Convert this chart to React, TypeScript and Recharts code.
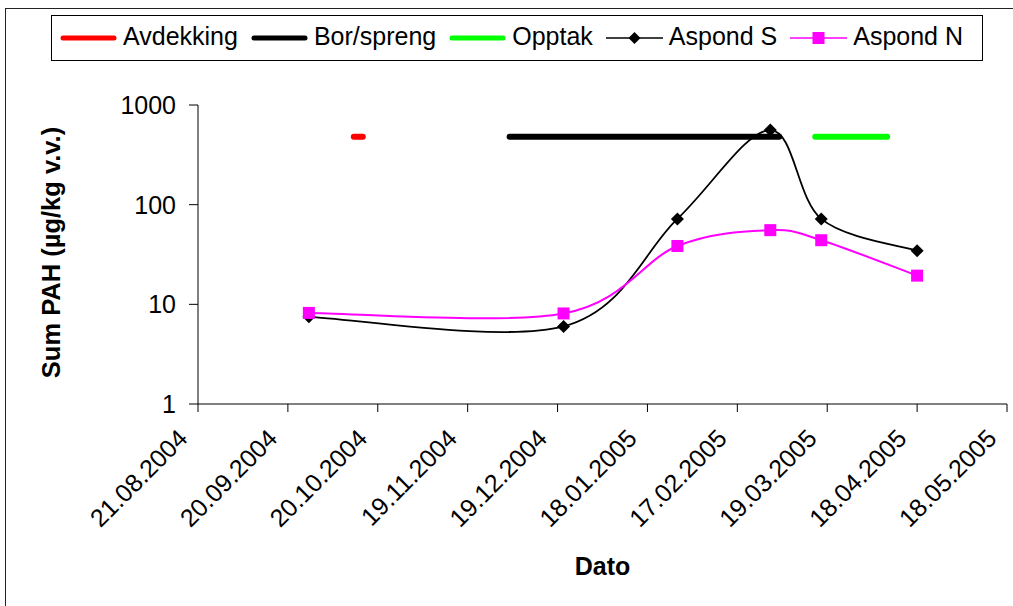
import { LineChart, Line, XAxis, YAxis } from 'recharts';

// dates read as dd.mm.yyyy
const xTickDates = [
  '21.08.2004', '20.09.2004', '20.10.2004', '19.11.2004', '19.12.2004',
  '18.01.2005', '17.02.2005', '19.03.2005', '18.04.2005', '18.05.2005',
];
const yTicks = [1, 10, 100, 1000];

const sampleDates = ['27.09.2004', '21.12.2004', '28.01.2005', '28.02.2005', '17.03.2005', '18.04.2005'];
const aspondS = [7.5, 6, 72, 560, 72, 34.5];
const aspondN = [8.2, 8.1, 38.5, 55.5, 44, 19.4];

// phase periods, drawn as flat bars at one level
const avdekking = ['12.10.2004', '15.10.2004'];
const borSpreng = ['03.12.2004', '03.03.2005'];
const opptak = ['15.03.2005', '08.04.2005'];
const phaseLevel = 480;

const toTime = (s: string) => {
  const [d, m, y] = s.split('.').map(Number);
  return Date.UTC(y, m - 1, d);
};
const fmt = (t: number) => {
  const d = new Date(t);
  const p = (n: number) => String(n).padStart(2, '0');
  return `${p(d.getUTCDate())}.${p(d.getUTCMonth() + 1)}.${d.getUTCFullYear()}`;
};

const xTicks = xTickDates.map(toTime);
const sData = sampleDates.map((d, i) => ({ t: toTime(d), v: aspondS[i] }));
const nData = sampleDates.map((d, i) => ({ t: toTime(d), v: aspondN[i] }));
const phase = (dates: string[]) => dates.map((d) => ({ t: toTime(d), v: phaseLevel }));

const RED = '#FF0000';
const GREEN = '#00FF00';
const MAGENTA = '#FF00FF';
const FONT = '"Liberation Sans", Arial, sans-serif';

// Excel-style smoothed line (Catmull-Rom through the points)
const excelSmooth = (context: any) => {
  let pts: number[][] = [];
  return {
    areaStart() {},
    areaEnd() {},
    lineStart() {
      pts = [];
    },
    point(x: number, y: number) {
      pts.push([+x, +y]);
    },
    lineEnd() {
      if (!pts.length) return;
      context.moveTo(pts[0][0], pts[0][1]);
      for (let i = 0; i < pts.length - 1; i++) {
        const p0 = pts[i - 1] || pts[i];
        const p1 = pts[i];
        const p2 = pts[i + 1];
        const p3 = pts[i + 2] || p2;
        context.bezierCurveTo(
          p1[0] + (p2[0] - p0[0]) / 6,
          p1[1] + (p2[1] - p0[1]) / 6,
          p2[0] - (p3[0] - p1[0]) / 6,
          p2[1] - (p3[1] - p1[1]) / 6,
          p2[0],
          p2[1],
        );
      }
    },
  };
};

const Diamond = (props: any) => {
  const { cx, cy, index } = props;
  const r = 6.5;
  return <path key={`d${index}`} d={`M${cx} ${cy - r}L${cx + r} ${cy}L${cx} ${cy + r}L${cx - r} ${cy}Z`} fill="#000" />;
};

const Square = (props: any) => {
  const { cx, cy, index } = props;
  return <rect key={`s${index}`} x={cx - 6} y={cy - 6} width={12} height={12} fill={MAGENTA} />;
};

const DateTick = ({ x, y, payload }: any) => {
  const ax = x - 9;
  const ay = y + 28;
  return (
    <text x={ax} y={ay} transform={`rotate(-45 ${ax} ${ay})`} textAnchor="end" fontSize={25} fill="#000">
      {fmt(payload.value)}
    </text>
  );
};

const legendItems = [
  { name: 'Avdekking', color: RED, kind: 'bar' },
  { name: 'Bor/spreng', color: '#000', kind: 'bar' },
  { name: 'Opptak', color: GREEN, kind: 'bar' },
  { name: 'Aspond S', color: '#000', kind: 'diamond' },
  { name: 'Aspond N', color: MAGENTA, kind: 'square' },
];

function LegendBox() {
  return (
    <div
      style={{
        position: 'absolute',
        left: 51,
        top: 15,
        width: 922,
        height: 44,
        border: '1.5px solid #000',
        display: 'flex',
        alignItems: 'center',
        paddingLeft: 8,
        boxSizing: 'content-box',
        fontSize: 25,
        color: '#000',
      }}
    >
      {legendItems.map((it, i) => (
        <div key={it.name} style={{ display: 'flex', alignItems: 'center', marginLeft: i === 0 ? 0 : 13 }}>
          <svg width={57} height={20} style={{ marginRight: 6 }}>
            {it.kind === 'bar' ? (
              <line x1={3} y1={10} x2={54} y2={10} stroke={it.color} strokeWidth={5} strokeLinecap="round" />
            ) : (
              <>
                <line x1={0} y1={10} x2={57} y2={10} stroke={it.color} strokeWidth={1.6} />
                {it.kind === 'diamond' ? (
                  <path d="M28.5 4L34.5 10L28.5 16L22.5 10Z" fill={it.color} />
                ) : (
                  <rect x={22.5} y={4} width={12} height={12} fill={it.color} />
                )}
              </>
            )}
          </svg>
          <span style={{ lineHeight: '28px', marginTop: -4 }}>{it.name}</span>
        </div>
      ))}
    </div>
  );
}

export default function App() {
  return (
    <div
      style={{
        position: 'absolute',
        left: 0,
        top: 0,
        width: 1013,
        height: 606,
        overflow: 'hidden',
        background: '#fff',
        fontFamily: FONT,
      }}
    >
      <div
        style={{
          position: 'absolute',
          left: 5,
          top: 8,
          width: 1100,
          height: 700,
          border: '1.5px solid #222',
        }}
      />
      <LineChart width={1013} height={606} margin={{ top: 105, right: 6, bottom: 42, left: 0 }} style={{ position: 'absolute', left: 0, top: 0 }}>
        <XAxis
          dataKey="t"
          type="number"
          scale="linear"
          domain={[xTicks[0], xTicks[xTicks.length - 1]]}
          ticks={xTicks}
          allowDataOverflow
          interval={0}
          height={160}
          tickSize={8}
          tickMargin={0}
          stroke="#000"
          tick={<DateTick />}
          label={(p: any) => {
            const vb = p.viewBox;
            return (
              <text x={vb.x + vb.width / 2} y={575} textAnchor="middle" fontSize={25} fontWeight="bold" fill="#000">
                Dato
              </text>
            );
          }}
        />
        <YAxis
          dataKey="v"
          type="number"
          scale="log"
          domain={[1, 1000]}
          ticks={yTicks}
          allowDataOverflow
          interval={0}
          width={198}
          tickSize={9}
          tickMargin={13}
          stroke="#000"
          tick={{ fontSize: 25, fill: '#000' }}
          label={(p: any) => {
            const vb = p.viewBox;
            const cx = vb.x + 51;
            const cy = vb.y + vb.height / 2 - 2;
            return (
              <text
                x={cx}
                y={cy}
                transform={`rotate(-90 ${cx} ${cy})`}
                textAnchor="middle"
                dominantBaseline="central"
                fontSize={25.5}
                fontWeight="bold"
                fill="#000"
              >
                Sum PAH (µg/kg v.v.)
              </text>
            );
          }}
        />
        <Line data={phase(avdekking)} dataKey="v" name="Avdekking" stroke={RED} strokeWidth={6} strokeLinecap="round" dot={false} isAnimationActive={false} />
        <Line data={phase(borSpreng)} dataKey="v" name="Bor/spreng" stroke="#000" strokeWidth={6} strokeLinecap="round" dot={false} isAnimationActive={false} />
        <Line data={phase(opptak)} dataKey="v" name="Opptak" stroke={GREEN} strokeWidth={6} strokeLinecap="round" dot={false} isAnimationActive={false} />
        <Line data={sData} dataKey="v" name="Aspond S" type={excelSmooth as any} stroke="#000" strokeWidth={1.8} dot={Diamond} isAnimationActive={false} />
        <Line data={nData} dataKey="v" name="Aspond N" type={excelSmooth as any} stroke={MAGENTA} strokeWidth={2} dot={Square} isAnimationActive={false} />
      </LineChart>
      <LegendBox />
    </div>
  );
}
